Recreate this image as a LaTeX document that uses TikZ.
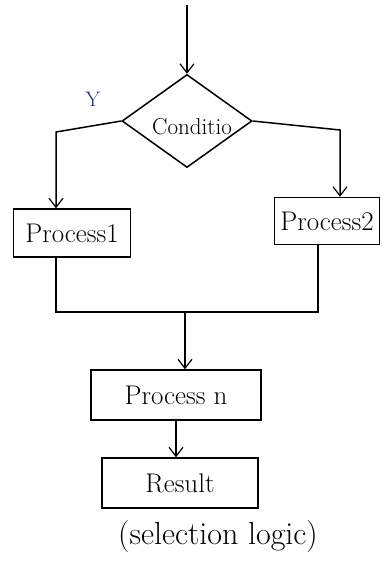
\documentclass[tikz,border=0pt]{standalone}
\usetikzlibrary{shapes.geometric,arrows.meta}
\definecolor{blueink}{RGB}{30,40,110}
\begin{document}
\begin{tikzpicture}[x=1pt,y=-1pt,
  ink/.style={line width=1.5pt,draw=black},
  flow/.style={ink,-{Straight Barb[length=9pt,width=14pt,line width=1.2pt]}},
  procbox/.style={ink,rectangle,inner sep=1pt,font=\fontsize{27}{30}\selectfont},
  decision/.style={ink,diamond,inner sep=0pt,minimum width=130pt,minimum height=93pt}]
  \useasboundingbox (0,0) rectangle (382,563);

  % decision and process boxes
  \node[decision] (cond) at (187,121) {};
  \node (condtext) at (192,127) [font=\fontsize{23}{26}\selectfont] {Conditio};
  \node[procbox,minimum width=117pt,minimum height=48pt] (p1) at (72,233) {Process1};
  \node[procbox,minimum width=105pt,minimum height=47pt] (p2) at (327,221) {Process2};
  \node[procbox,minimum width=170pt,minimum height=50pt] (pn) at (176,395) {Process n};
  \node[procbox,minimum width=156pt,minimum height=50pt] (res) at (180,483) {Result};
  \node[font=\fontsize{32}{36}\selectfont] (cap) at (218,537) {(selection logic)};
  \node[font=\fontsize{21}{24}\selectfont,text=blueink] (ylab) at (93,99) {Y};

  % entry into the decision
  \coordinate (start) at (187,5);
  \draw[flow] (start) -- (cond.north);

  % two branches
  \coordinate (lc) at (56,132);
  \coordinate (rc) at (340,130);
  \draw[flow] (cond.west) -- (lc) -- (lc |- p1.north);
  \draw[flow] (cond.east) -- (rc) -- (rc |- p2.north);

  % branches join again
  \coordinate (jl) at (56,312);
  \coordinate (jr) at (318,312);
  \draw[ink] (p1.south -| jl) -- (jl) -- (jr) -- (p2.south -| jr);
  \coordinate (jm) at (185,312);
  \draw[flow] (jm) -- (jm |- pn.north);

  % to the result
  \draw[flow] (pn.south) -- (pn.south |- res.north);
\end{tikzpicture}
\end{document}
